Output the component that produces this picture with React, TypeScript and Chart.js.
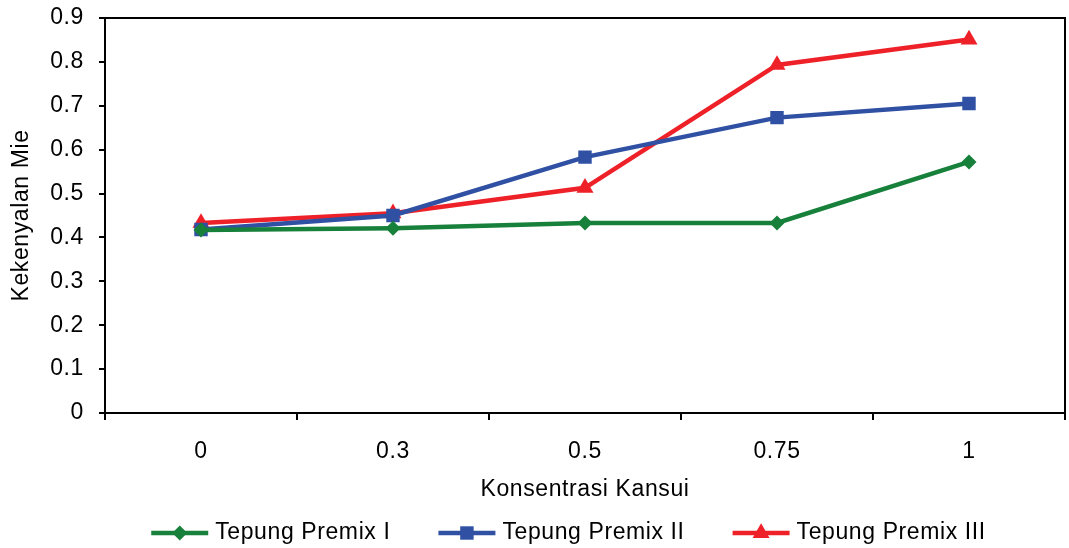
import React, { useEffect, useRef } from "react";
import { Chart, registerables } from "chart.js";

Chart.register(...registerables);

const categories = ["0", "0.3", "0.5", "0.75", "1"];
const premixI = [0.417, 0.421, 0.433, 0.433, 0.572];
const premixII = [0.418, 0.45, 0.583, 0.673, 0.705];
const premixIII = [0.433, 0.455, 0.513, 0.793, 0.851];
const seriesNames = ["Tepung Premix I", "Tepung Premix II", "Tepung Premix III"];
const yTitle = "Kekenyalan Mie";
const xTitle = "Konsentrasi Kansui";

const GREEN = "#17803a";
const BLUE = "#2f50a3";
const RED = "#ee2129";
const FONT = "'Liberation Sans', Arial, sans-serif";
const FS = 23;
const SPACING = "0.6px";

const spacingPlugin = {
  id: "spacing",
  beforeInit(chart: any) { chart.ctx.letterSpacing = SPACING; },
  beforeLayout(chart: any) { chart.ctx.letterSpacing = SPACING; },
  beforeDraw(chart: any) { chart.ctx.letterSpacing = SPACING; },
};

const framePlugin = {
  id: "frame",
  afterDatasetsDraw(chart: any) {
    const { ctx, chartArea } = chart;
    ctx.save();
    ctx.strokeStyle = "#000";
    ctx.lineWidth = 2;
    ctx.beginPath();
    ctx.moveTo(chartArea.left, chartArea.top);
    ctx.lineTo(chartArea.right, chartArea.top);
    ctx.lineTo(chartArea.right, chartArea.bottom);
    ctx.stroke();
    ctx.restore();
  },
};

function drawMarker(ctx: CanvasRenderingContext2D, style: string, r: number, x: number, y: number) {
  ctx.beginPath();
  if (style === "rectRot") {
    ctx.moveTo(x, y - r);
    ctx.lineTo(x + r, y);
    ctx.lineTo(x, y + r);
    ctx.lineTo(x - r, y);
  } else if (style === "rect") {
    const s = Math.SQRT1_2 * r;
    ctx.rect(x - s, y - s, 2 * s, 2 * s);
  } else {
    ctx.moveTo(x, y - r);
    ctx.lineTo(x + Math.sin((2 * Math.PI) / 3) * r, y - Math.cos((2 * Math.PI) / 3) * r);
    ctx.lineTo(x + Math.sin((4 * Math.PI) / 3) * r, y - Math.cos((4 * Math.PI) / 3) * r);
  }
  ctx.closePath();
  ctx.fill();
}

const legendPlugin = {
  id: "customLegend",
  afterDraw(chart: any) {
    const { ctx } = chart;
    const datasets = chart.data.datasets;
    ctx.save();
    ctx.letterSpacing = SPACING;
    ctx.font = `${FS}px ${FONT}`;
    const lineLen = 57;
    const gapText = 7;
    const gapItem = 48;
    const widths = datasets.map((d: any) => lineLen + gapText + ctx.measureText(d.label).width);
    const total = widths.reduce((a: number, b: number) => a + b, 0) + gapItem * (datasets.length - 1);
    let x = 568.5 - total / 2;
    const y = 533;
    datasets.forEach((d: any, i: number) => {
      ctx.strokeStyle = d.borderColor;
      ctx.lineWidth = 4.5;
      ctx.beginPath();
      ctx.moveTo(x, y);
      ctx.lineTo(x + lineLen, y);
      ctx.stroke();
      ctx.fillStyle = d.borderColor;
      drawMarker(ctx, d.pointStyle, d.pointRadius, x + lineLen / 2, y);
      ctx.fillStyle = "#000";
      ctx.textBaseline = "middle";
      ctx.textAlign = "left";
      ctx.fillText(d.label, x + lineLen + gapText, y);
      x += widths[i] + gapItem;
    });
    ctx.restore();
  },
};

export default function App() {
  const ref = useRef<HTMLCanvasElement>(null);
  useEffect(() => {
    if (!ref.current) return;
    const mk = (label: string, data: number[], color: string, style: string, r: number) => ({
      label,
      data,
      borderColor: color,
      backgroundColor: color,
      pointBackgroundColor: color,
      pointBorderColor: color,
      pointBorderWidth: 0,
      borderWidth: 4.5,
      pointStyle: style,
      pointRadius: r,
      pointHoverRadius: r,
      tension: 0,
      fill: false,
    });
    const chart = new Chart(ref.current, {
      type: "line",
      data: {
        labels: categories,
        datasets: [
          mk(seriesNames[0], premixI, GREEN, "rectRot", 7.5),
          mk(seriesNames[1], premixII, BLUE, "rect", 9.5),
          mk(seriesNames[2], premixIII, RED, "triangle", 9.8),
        ],
      },
      options: {
        responsive: false,
        animation: false,
        maintainAspectRatio: false,
        layout: { autoPadding: false, padding: { top: 18, right: 4, left: 0, bottom: 40 } },
        plugins: { legend: { display: false }, tooltip: { enabled: false } },
        scales: {
          x: {
            type: "category",
            offset: true,
            grid: { offset: true, drawOnChartArea: false, drawTicks: true, tickLength: 7, color: "#000", lineWidth: 2 },
            border: { color: "#000", width: 2 },
            ticks: { color: "#000", font: { family: FONT, size: FS }, padding: 18, maxRotation: 0 },
            title: { display: true, text: xTitle, color: "#000", font: { family: FONT, size: FS }, padding: { top: 0, bottom: 5 } },
            afterFit: (s: any) => { s.height = 95; s.paddingLeft = 0; s.paddingRight = 0; s.paddingTop = 0; s.paddingBottom = 0; },
          },
          y: {
            min: 0,
            max: 0.9,
            ticks: { stepSize: 0.1, color: "#000", font: { family: FONT, size: FS }, padding: 15, callback: (v: any) => String(Math.round(v * 10) / 10) },
            grid: { drawOnChartArea: false, drawTicks: true, tickLength: 6, color: "#000", lineWidth: 2 },
            border: { color: "#000", width: 2 },
            title: { display: true, text: yTitle, color: "#000", font: { family: FONT, size: FS }, padding: { top: 8, bottom: 0 } },
            afterFit: (s: any) => { s.width = 105; s.paddingTop = 0; s.paddingBottom = 0; s.paddingLeft = 0; s.paddingRight = 0; },
          },
        },
      },
      plugins: [spacingPlugin, framePlugin, legendPlugin],
    });
    return () => chart.destroy();
  }, []);
  return (
    <div style={{ position: "fixed", left: 0, top: 0, width: 1069, height: 548, background: "#fff" }}>
      <canvas ref={ref} width={1069} height={548} style={{ width: 1069, height: 548 }} />
    </div>
  );
}
